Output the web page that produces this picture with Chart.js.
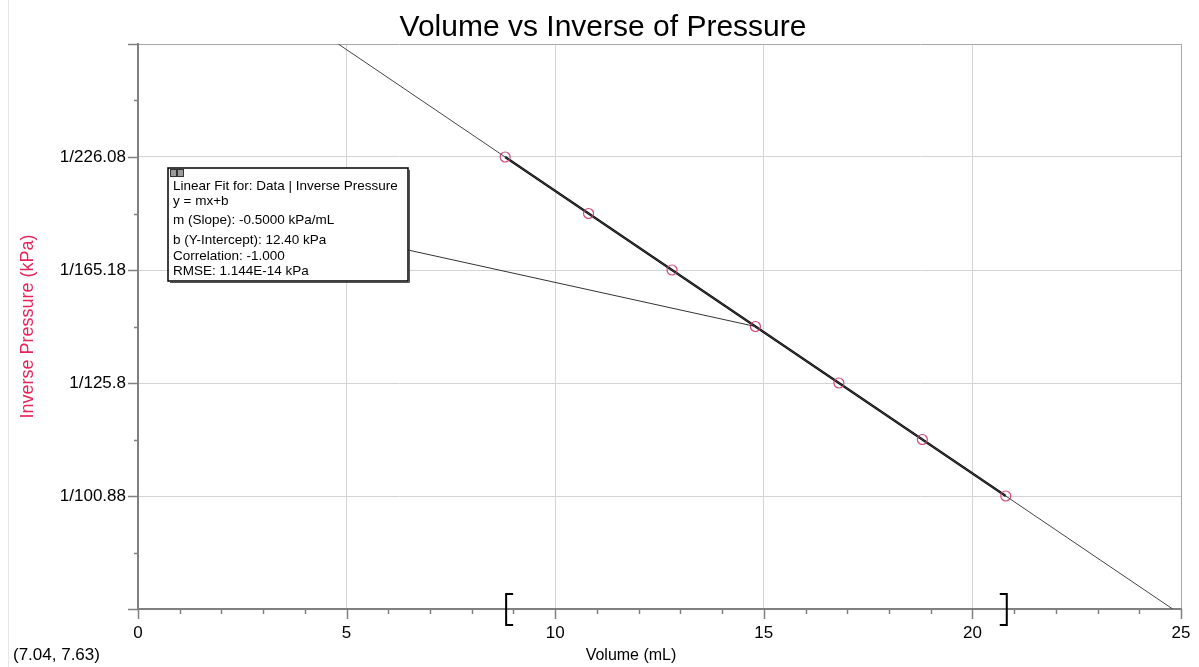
<!DOCTYPE html>
<html>
<head>
<meta charset="utf-8">
<script src="https://cdn.jsdelivr.net/npm/chart.js@4/dist/chart.umd.min.js"></script>
<style>
  body { margin: 0; background: #fff; }
</style>
</head>
<body>
<canvas id="volumeChart" width="1199" height="667"></canvas>
<script>
// measured data (Volume in mL vs inverse pressure)
const volumes = [8.8, 10.8, 12.8, 14.8, 16.8, 18.8, 20.8];
const inversePressure = [8, 7, 6, 5, 4, 3, 2];

// linear fit line ends
const fitX = [4.8, 24.8];
const fitY = [10, 0];

const yTickValues = [2, 4, 6, 8];
const yTickLabels = ['1/100.88', '1/125.8', '1/165.18', '1/226.08'];
const xTickLabels = ['0', '5', '10', '15', '20', '25'];

const selection = [8.8, 20.8];
const pickedPoint = [14.8, 5];
const chartTitle = 'Volume vs Inverse of Pressure';
const cursorText = '(7.04, 7.63)';
const fitLines = [
  'Linear Fit for: Data | Inverse Pressure',
  'y = mx+b',
  'm (Slope): -0.5000 kPa/mL',
  'b (Y-Intercept): 12.40 kPa',
  'Correlation: -1.000',
  'RMSE: 1.144E-14 kPa'
];

const font = 'Arial, "Liberation Sans", sans-serif';

const extras = {
  id: 'extras',
  beforeDraw(chart) {
    const { ctx } = chart;
    // faint window edge on the far left
    ctx.save();
    ctx.strokeStyle = '#e6e6e6';
    ctx.lineWidth = 1;
    ctx.beginPath();
    ctx.moveTo(8.5, 0);
    ctx.lineTo(8.5, chart.height);
    ctx.stroke();
    ctx.restore();
  },
  afterDraw(chart) {
    const { ctx, chartArea } = chart;
    const xs = chart.scales.x;
    const ys = chart.scales.y;
    ctx.save();

    // title
    ctx.fillStyle = '#000';
    ctx.textAlign = 'center';
    ctx.textBaseline = 'alphabetic';
    ctx.font = '30px ' + font;
    ctx.fillText(chartTitle, 603, 36);

    // axis ticks (long major, short minor)
    ctx.strokeStyle = '#808080';
    ctx.lineWidth = 1.5;
    ys.ticks.forEach((t) => {
      const py = Math.round(ys.getPixelForValue(t.value)) + 0.5;
      const len = t.value % 2 === 0 ? 10 : 4;
      ctx.beginPath();
      ctx.moveTo(chartArea.left - len, py);
      ctx.lineTo(chartArea.left, py);
      ctx.stroke();
    });
    xs.ticks.forEach((t) => {
      const px = Math.round(xs.getPixelForValue(t.value)) + 0.5;
      const len = t.value % 5 === 0 ? 10 : 5;
      ctx.beginPath();
      ctx.moveTo(px, chartArea.bottom);
      ctx.lineTo(px, chartArea.bottom + len);
      ctx.stroke();
    });

    // selection brackets
    ctx.strokeStyle = '#000';
    ctx.lineWidth = 2;
    const by1 = chartArea.bottom - 15, by2 = chartArea.bottom + 16;
    const lx = xs.getPixelForValue(selection[0]) + 1;
    ctx.beginPath();
    ctx.moveTo(lx + 7, by1); ctx.lineTo(lx, by1); ctx.lineTo(lx, by2); ctx.lineTo(lx + 7, by2);
    ctx.stroke();
    const rx = xs.getPixelForValue(selection[1]) + 1;
    ctx.beginPath();
    ctx.moveTo(rx - 7, by1); ctx.lineTo(rx, by1); ctx.lineTo(rx, by2); ctx.lineTo(rx - 7, by2);
    ctx.stroke();

    // x title + cursor readout
    ctx.fillStyle = '#000';
    ctx.textBaseline = 'middle';
    ctx.textAlign = 'center';
    ctx.font = '16px ' + font;
    ctx.fillText('Volume (mL)', 631, 656);
    ctx.textAlign = 'left';
    ctx.font = '17px ' + font;
    ctx.fillText(cursorText, 13, 655);

    // leader line from fit box to the picked point
    const box = { x: 168, y: 168, w: 240, h: 113 };
    ctx.strokeStyle = '#333';
    ctx.lineWidth = 1;
    ctx.beginPath();
    ctx.moveTo(box.x + box.w, 250);
    ctx.lineTo(xs.getPixelForValue(pickedPoint[0]), ys.getPixelForValue(pickedPoint[1]));
    ctx.stroke();

    // fit info box
    ctx.fillStyle = '#fff';
    ctx.fillRect(box.x, box.y, box.w, box.h);
    ctx.strokeStyle = '#000';
    ctx.lineWidth = 1.5;
    ctx.strokeRect(box.x, box.y, box.w, box.h);
    ctx.lineWidth = 1;
    ctx.strokeStyle = '#555';
    ctx.beginPath();
    ctx.moveTo(box.x + box.w + 1.5, box.y + 2); ctx.lineTo(box.x + box.w + 1.5, box.y + box.h + 1.5);
    ctx.lineTo(box.x + 2, box.y + box.h + 1.5);
    ctx.stroke();
    // little window buttons
    [[170, 169], [177, 169]].forEach(([bx, by]) => {
      ctx.fillStyle = '#9a9a9a';
      ctx.fillRect(bx, by, 6, 7);
      ctx.strokeStyle = '#333';
      ctx.strokeRect(bx + 0.5, by + 0.5, 6, 7);
    });
    ctx.fillStyle = '#000';
    ctx.font = '13.5px ' + font;
    const lineY = [186, 201, 220, 240, 256, 271];
    fitLines.forEach((s, i) => ctx.fillText(s, 173, lineY[i]));

    ctx.restore();
  }
};

new Chart(document.getElementById('volumeChart'), {
  type: 'scatter',
  data: {
    datasets: [
      {
        label: 'Fit',
        data: fitX.map((x, i) => ({ x, y: fitY[i] })),
        showLine: true,
        borderColor: '#444',
        borderWidth: 1,
        pointRadius: 0
      },
      {
        label: 'Data',
        data: volumes.map((x, i) => ({ x, y: inversePressure[i] })),
        showLine: true,
        borderColor: '#000',
        borderWidth: 2.2,
        pointRadius: 5,
        pointBorderColor: '#d4477a',
        pointBackgroundColor: 'rgba(0,0,0,0)',
        pointBorderWidth: 1.2
      }
    ]
  },
  options: {
    responsive: false,
    animation: false,
    layout: { padding: { left: 0, right: 18, top: 44, bottom: 0 } },
    plugins: {
      legend: { display: false },
      tooltip: { enabled: false },
      title: { display: false }
    },
    scales: {
      x: {
        type: 'linear',
        min: 0,
        max: 25,
        ticks: {
          stepSize: 1,
          autoSkip: false,
          maxRotation: 0,
          padding: 14,
          color: '#000',
          font: { family: font, size: 17 },
          callback: (v) => (v % 5 === 0 ? xTickLabels[v / 5] : '')
        },
        grid: {
          drawTicks: false,
          color: (c) => (c.tick.value === 25 ? '#a8a8a8' : c.tick.value % 5 === 0 ? '#d4d4d4' : 'rgba(0,0,0,0)')
        },
        border: { color: '#808080', width: 2 },
        afterFit: (s) => { s.height = 58; s.paddingLeft = 0; s.paddingRight = 0; }
      },
      y: {
        type: 'linear',
        min: 0,
        max: 10,
        ticks: {
          stepSize: 1,
          autoSkip: false,
          padding: 12,
          color: '#000',
          font: { family: font, size: 17 },
          callback: (v) => {
            const i = yTickValues.indexOf(v);
            return i >= 0 ? yTickLabels[i] : '';
          }
        },
        grid: {
          drawTicks: false,
          color: (c) => (c.tick.value === 10 ? '#a8a8a8' : c.tick.value % 2 === 0 && c.tick.value > 0 ? '#d4d4d4' : 'rgba(0,0,0,0)')
        },
        border: { color: '#808080', width: 2 },
        title: {
          display: true,
          text: 'Inverse Pressure (kPa)',
          color: '#e8255a',
          font: { family: font, size: 18 },
          padding: { top: 17, bottom: 0 }
        },
        afterFit: (s) => { s.width = 138; s.paddingTop = 0; s.paddingBottom = 0; }
      }
    }
  },
  plugins: [extras]
});
</script>
</body>
</html>
